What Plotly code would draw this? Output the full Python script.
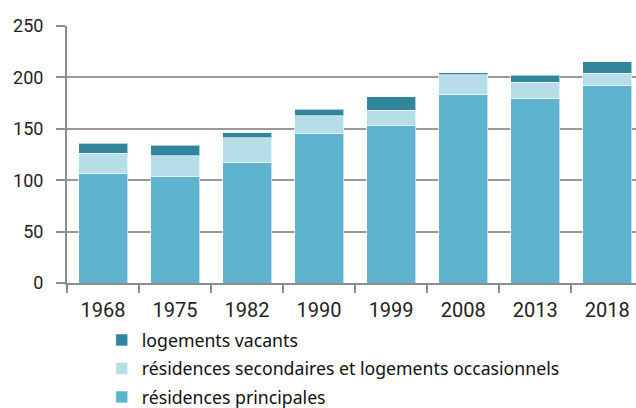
import plotly.graph_objects as go

years = ["1968", "1975", "1982", "1990", "1999", "2008", "2013", "2018"]
principales = [107, 104, 117.5, 145, 153, 183.5, 179.5, 192]
secondaires = [19, 20, 23.7, 17.5, 15, 19, 15.6, 12]
vacants = [10, 10, 5.2, 6.7, 13, 2, 7.2, 11.3]

names = ["résidences principales",
         "résidences secondaires et logements occasionnels",
         "logements vacants"]
colors = ["#5eb3cf", "#b7dde8", "#31859c"]
ranks = [3, 2, 1]

fig = go.Figure()
for i, (name, vals, col) in enumerate(zip(names, [principales, secondaires, vacants], colors)):
    fig.add_trace(go.Bar(
        x=years, y=vals, name=name, legendgroup=f"g{i}", legendrank=ranks[i],
        marker=dict(color=col, line=dict(color="rgba(255,255,255,0.6)", width=1)),
        width=0.68,
    ))

fig.update_layout(
    barmode="stack",
    width=636, height=408,
    margin=dict(l=67, r=0, t=26, b=125, autoexpand=False),
    plot_bgcolor="white", paper_bgcolor="white",
    font=dict(family="Roboto, Liberation Sans, sans-serif", color="#222", size=17),
    legend=dict(
        traceorder="grouped",
        tracegroupgap=2.5,
        orientation="v",
        xref="container", x=0.160, xanchor="left",
        yref="container", y=0.211, yanchor="top",
        font=dict(size=17.7, family="Noto Sans, Roboto, sans-serif", color="#111"),
        itemwidth=30,
        bgcolor="rgba(0,0,0,0)",
    ),
    showlegend=True,
)
fig.update_xaxes(
    range=[-0.5, 7.4],
    showline=True, linecolor="#8c8c8c", linewidth=2,
    ticks="outside", tickson="boundaries", ticklen=8, tickcolor="#8c8c8c", tickwidth=2,
    showgrid=False,
    tickfont=dict(size=20),
    ticklabelstandoff=8,
    automargin=False,
)
fig.update_yaxes(
    range=[0, 250], tickvals=[0, 50, 100, 150, 200, 250],
    showline=True, linecolor="#8c8c8c", linewidth=2,
    ticks="outside", ticklen=9, tickcolor="#8c8c8c", tickwidth=2,
    showgrid=True, gridcolor="#999999", gridwidth=2,
    zeroline=False,
    ticklabelstandoff=9,
    tickfont=dict(size=18),
    automargin=False,
)

fig.write_html("out.html", config={"displayModeBar": False},
               post_script="document.body.style.margin='0';")
